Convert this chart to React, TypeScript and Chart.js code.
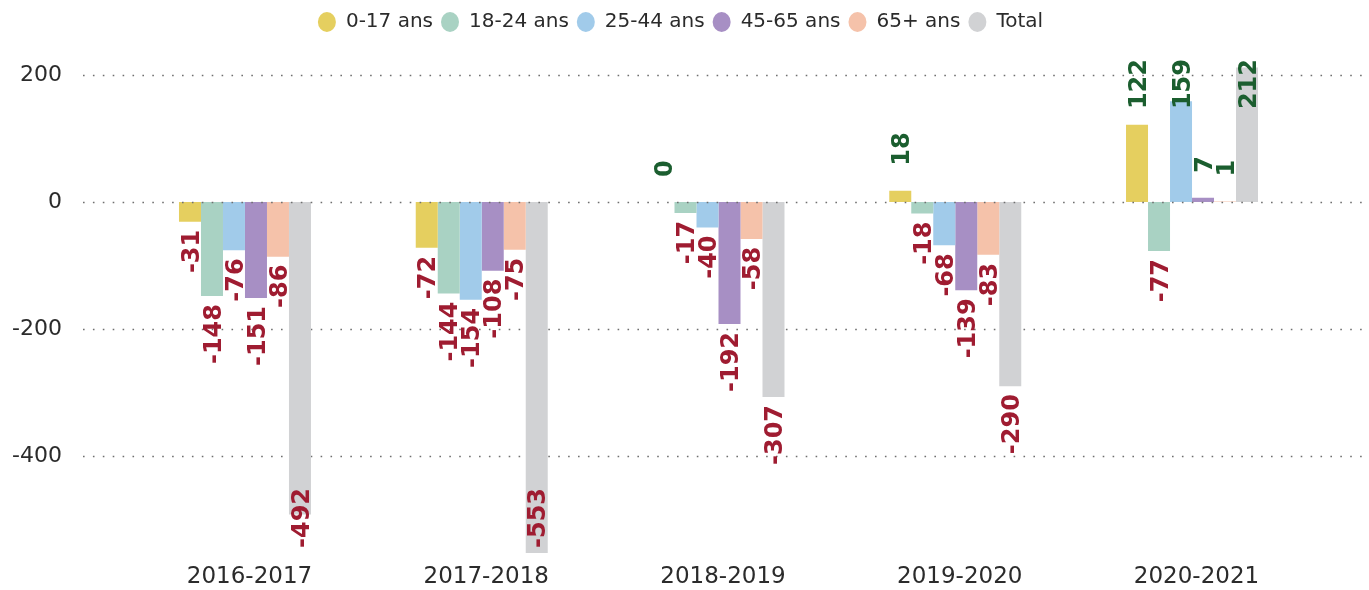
import React, { useEffect, useRef } from 'react';
import { Chart, registerables } from 'chart.js';

Chart.register(...registerables);

const categories = ['2016-2017', '2017-2018', '2018-2019', '2019-2020', '2020-2021'];
const seriesNames = ['0-17 ans', '18-24 ans', '25-44 ans', '45-65 ans', '65+ ans', 'Total'];
const age0to17 = [-31, -72, 0, 18, 122];
const age18to24 = [-148, -144, -17, -18, -77];
const age25to44 = [-76, -154, -40, -68, 159];
const age45to65 = [-151, -108, -192, -139, 7];
const age65plus = [-86, -75, -58, -83, 1];
const total = [-492, -553, -307, -290, 212];
const seriesColors = ['#e5cf5f', '#a9d2c3', '#a1cbea', '#a78fc4', '#f5c2aa', '#d1d2d4'];
const yTickValues = [-400, -200, 0, 200];
const yMin = -556;
const yMax = 227;

const FONT = '"DejaVu Sans", Verdana, sans-serif';
const NEG_COLOR = '#9f1c31';
const POS_COLOR = '#1b5e2f';

function drawGrid(chart: any, which: (v: number) => boolean) {
  const { ctx, chartArea, scales } = chart;
  const y = scales.y;
  ctx.save();
  ctx.strokeStyle = '#6f6f6f';
  ctx.lineWidth = 1.6;
  ctx.setLineDash([1.6, 8.3]);
  for (const v of yTickValues) {
    if (!which(v)) continue;
    const py = Math.round(y.getPixelForValue(v)) + 0.5;
    ctx.beginPath();
    ctx.moveTo(chartArea.left - 43.6, py);
    ctx.lineTo(chartArea.right + 55, py);
    ctx.stroke();
  }
  ctx.restore();
}

function drawValueLabels(chart: any) {
  const { ctx, chartArea } = chart;
  ctx.save();
  ctx.font = `bold 24px ${FONT}`;
  chart.data.datasets.forEach((ds: any, i: number) => {
    const meta = chart.getDatasetMeta(i);
    meta.data.forEach((el: any, j: number) => {
      const v = ds.data[j];
      const text = String(v);
      const w = ctx.measureText(text).width;
      const x = el.x;
      const yEnd = el.y;
      ctx.save();
      if (v >= 0) {
        let start = yEnd - 25;
        if (start - w < chartArea.top + 1) start = chartArea.top + 1 + w;
        ctx.translate(x, start);
        ctx.rotate(-Math.PI / 2);
        ctx.textAlign = 'left';
        ctx.fillStyle = POS_COLOR;
      } else {
        let endY = yEnd + 8;
        if (endY + w > chartArea.bottom - 7) endY = chartArea.bottom - 7 - w;
        ctx.translate(x, endY);
        ctx.rotate(-Math.PI / 2);
        ctx.textAlign = 'right';
        ctx.fillStyle = NEG_COLOR;
      }
      ctx.textBaseline = 'alphabetic';
      ctx.fillText(text, 0, 8.7);
      ctx.restore();
    });
  });
  ctx.restore();
}

const customPlugin = {
  id: 'customDraw',
  beforeDatasetsDraw(chart: any) {
    drawGrid(chart, (v) => v !== 0);
  },
  afterDatasetsDraw(chart: any) {
    drawGrid(chart, (v) => v === 0);
    drawValueLabels(chart);
  },
};

export default function App() {
  const canvasRef = useRef<HTMLCanvasElement | null>(null);

  useEffect(() => {
    if (!canvasRef.current) return;
    const seriesData = [age0to17, age18to24, age25to44, age45to65, age65plus, total];
    const chart = new Chart(canvasRef.current, {
      type: 'bar',
      data: {
        labels: categories,
        datasets: seriesNames.map((name, i) => ({
          label: name,
          data: seriesData[i],
          backgroundColor: seriesColors[i],
          borderWidth: 0,
          barPercentage: 1,
          categoryPercentage: 0.5575,
        })),
      },
      options: {
        animation: false,
        responsive: true,
        maintainAspectRatio: false,
        layout: { padding: { top: 4, left: 0, right: 8, bottom: 0 } },
        plugins: {
          legend: {
            position: 'top',
            labels: {
              usePointStyle: true,
              pointStyle: 'circle',
              pointStyleWidth: 18,
              boxHeight: 14,
              padding: 8,
              color: '#2b2b2b',
              font: { family: FONT, size: 20 },
            },
          },
          title: {
            display: true,
            text: '',
            weight: 500,
            padding: { top: 6, bottom: 0 },
            font: { size: 10, lineHeight: 1 },
          } as any,
          tooltip: { enabled: false },
        },
        scales: {
          x: {
            grid: { display: false, drawTicks: false },
            border: { display: false },
            ticks: { padding: 8, labelOffset: 4.5, color: '#2b2b2b', font: { family: FONT, size: 23 } },
            afterFit: (s: any) => {
              s.height = 35;
              s.paddingLeft = 0;
              s.paddingRight = 0;
            },
          },
          y: {
            min: yMin,
            max: yMax,
            grid: { display: false, drawTicks: false },
            border: { display: false },
            afterBuildTicks: (s: any) => {
              s.ticks = yTickValues.map((v) => ({ value: v }));
            },
            ticks: { padding: 64.6, color: '#2b2b2b', font: { family: FONT, size: 22 } },
            afterFit: (s: any) => {
              s.width = 126.6;
              s.paddingTop = 0;
              s.paddingBottom = 0;
            },
          },
          yRightSpace: {
            position: 'right',
            display: true,
            grid: { display: false, drawTicks: false },
            border: { display: false },
            ticks: { display: false },
            afterFit: (s: any) => {
              s.width = 50.6;
              s.paddingTop = 0;
              s.paddingBottom = 0;
            },
          },
        },
      },
      plugins: [customPlugin],
    });
    return () => chart.destroy();
  }, []);

  return (
    <div style={{ position: 'absolute', left: 0, top: 0, width: 1369, height: 590 }}>
      <canvas ref={canvasRef} />
    </div>
  );
}
